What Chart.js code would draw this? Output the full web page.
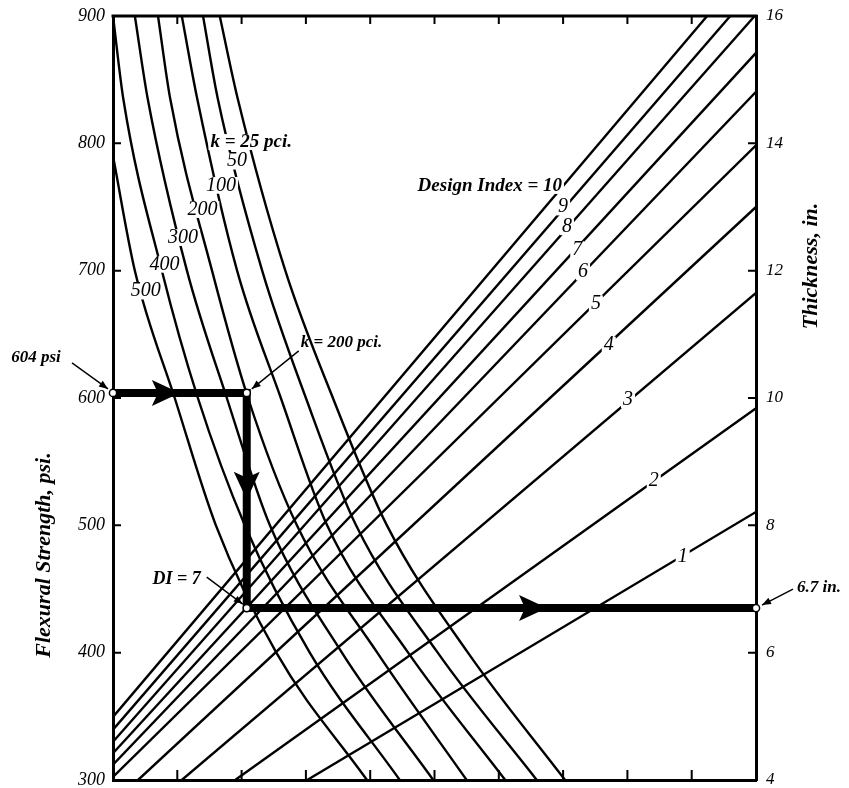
<!DOCTYPE html>
<html><head><meta charset="utf-8">
<script src="https://cdn.jsdelivr.net/npm/chart.js@4.4.1/dist/chart.umd.min.js"></script>
<style>html,body{margin:0;padding:0;background:#fff}canvas{display:block}</style>
</head><body>
<canvas id="c" width="849" height="788"></canvas>
<script>
// ---- tick labels ----
const psiTicks = [300, 400, 500, 600, 700, 800, 900];
const inTicks = [4, 6, 8, 10, 12, 14, 16];
const xTicks = [1, 2, 3, 4, 5, 6, 7, 8, 9];

// ---- modulus of subgrade reaction curves: [x, flexural strength psi] ----
const k500 = [[0, 790], [0.34, 700], [0.96, 600], [1.60, 500], [2.54, 400], [3.95, 300]];
const k400 = [[0, 900], [0.16, 835], [0.76, 700], [1.32, 600], [2.05, 500], [3.06, 400], [4.46, 300]];
const k300 = [[0.34, 900], [0.54, 835], [1.15, 700], [1.77, 600], [2.44, 500], [3.56, 400], [4.98, 300]];
const k200 = [[0.70, 900], [0.89, 835], [1.54, 700], [2.10, 600], [2.86, 500], [4.11, 400], [5.50, 300]];
const k100 = [[1.07, 900], [1.31, 835], [1.93, 700], [2.61, 600], [3.33, 500], [4.59, 400], [6.10, 300]];
const k50  = [[1.40, 900], [1.63, 835], [2.32, 700], [3.00, 600], [3.78, 500], [5.05, 400], [6.59, 300]];
const k25  = [[1.66, 900], [1.94, 835], [2.68, 700], [3.42, 600], [4.26, 500], [5.52, 400], [7.03, 300]];
const kNames = ['500', '400', '300', '200', '100', '50', '25'];

// ---- design index lines: [x, thickness in.] ----
const di10 = [[0, 4.99], [9.24, 16]];
const di9  = [[0, 4.79], [9.60, 16]];
const di8  = [[0, 4.60], [9.98, 16]];
const di7  = [[0, 4.42], [10, 15.42]];
const di6  = [[0, 4.24], [10, 14.81]];
const di5  = [[0, 4.05], [10, 13.97]];
const di4  = [[0.39, 4], [10, 13.00]];
const di3  = [[1.07, 4], [10, 11.65]];
const di2  = [[1.90, 4], [10, 9.84]];
const di1  = [[3.02, 4], [10, 8.21]];
const diNames = ['10', '9', '8', '7', '6', '5', '4', '3', '2', '1'];

// ---- worked example ----
const inputPsi = 604;
const exampleX = 2.08;
const outThickness = 6.7;

// ---- label anchors (data coords) ----
const kLabelPos = [[0.51, 684], [0.80, 705], [1.09, 726], [1.39, 748], [1.68, 767], [1.93, 786]];
const kTopLabelPos = [2.15, 801];
const diLabelPos = [[6.92, 13.33], [7.0, 13.0], [7.06, 12.69], [7.22, 12.33], [7.31, 11.98], [7.51, 11.48], [7.71, 10.83], [8.01, 9.97], [8.41, 8.70], [8.86, 7.50]];
const arrowTips = { right1: 1.04, down: 520, right2: 6.75 };

const pts = a => a.map(([x, y]) => ({ x, y }));
const kSets = [k500, k400, k300, k200, k100, k50, k25].map((a, i) => ({
  label: 'k=' + kNames[i], data: pts(a), yAxisID: 'y', borderColor: '#000', borderWidth: 2.4,
  pointRadius: 0, cubicInterpolationMode: 'monotone', fill: false
}));
const diSets = [di10, di9, di8, di7, di6, di5, di4, di3, di2, di1].map((a, i) => ({
  label: 'DI=' + diNames[i], data: pts(a), yAxisID: 'y2', borderColor: '#000', borderWidth: 2.4,
  pointRadius: 0, tension: 0, fill: false
}));

const SERIF = "'Liberation Serif', 'DejaVu Serif', serif";
function txt(ctx, s, px, py, font, align, bg) {
  ctx.save();
  ctx.font = font;
  const w = ctx.measureText(s).width;
  const h = parseFloat(font.match(/([\d.]+)px/)[1]);
  const left = align === 'center' ? px - w / 2 : align === 'right' ? px - w : px;
  if (bg) { ctx.fillStyle = '#fff'; ctx.fillRect(left - 2, py - h * 0.42, w + 4, h * 0.84); }
  ctx.fillStyle = '#000'; ctx.textAlign = align; ctx.textBaseline = 'middle';
  ctx.fillText(s, px, py);
  ctx.restore();
}
function pointer(ctx, x0, y0, x1, y1, head) {
  ctx.save();
  ctx.strokeStyle = '#000'; ctx.fillStyle = '#000'; ctx.lineWidth = 1.4;
  ctx.beginPath(); ctx.moveTo(x0, y0); ctx.lineTo(x1, y1); ctx.stroke();
  if (head) {
    const ang = Math.atan2(y1 - y0, x1 - x0), L = 9, W = 3.5;
    ctx.beginPath(); ctx.moveTo(x1, y1);
    ctx.lineTo(x1 - L * Math.cos(ang) + W * Math.sin(ang), y1 - L * Math.sin(ang) - W * Math.cos(ang));
    ctx.lineTo(x1 - L * Math.cos(ang) - W * Math.sin(ang), y1 - L * Math.sin(ang) + W * Math.cos(ang));
    ctx.closePath(); ctx.fill();
  }
  ctx.restore();
}

const overlay = {
  id: 'overlay',
  afterDatasetsDraw(chart) {
    const { ctx, chartArea: a, scales: { x, y, y2 } } = chart;
    ctx.save();
    // frame top
    ctx.strokeStyle = '#000'; ctx.lineWidth = 3;
    ctx.beginPath(); ctx.moveTo(a.left - 1.5, a.top); ctx.lineTo(a.right + 1.5, a.top); ctx.stroke();
    // inward ticks
    ctx.lineWidth = 2;
    ctx.beginPath();
    psiTicks.forEach(v => { const p = y.getPixelForValue(v); ctx.moveTo(a.left, p); ctx.lineTo(a.left + 8, p); });
    inTicks.forEach(v => { const p = y2.getPixelForValue(v); ctx.moveTo(a.right, p); ctx.lineTo(a.right - 8, p); });
    xTicks.forEach(v => { const p = x.getPixelForValue(v); ctx.moveTo(p, a.bottom); ctx.lineTo(p, a.bottom - 10); ctx.moveTo(p, a.top); ctx.lineTo(p, a.top + 8); });
    ctx.stroke();

    // curve labels (break the lines)
    const itF = 'italic 20px ' + SERIF;
    const biF = 'italic bold 19px ' + SERIF;
    kLabelPos.forEach(([lx, ly], i) => txt(ctx, kNames[i], x.getPixelForValue(lx), y.getPixelForValue(ly), itF, 'center', true));
    txt(ctx, 'k = 25 pci.', x.getPixelForValue(kTopLabelPos[0]), y.getPixelForValue(kTopLabelPos[1]), biF, 'center', true);
    diLabelPos.forEach(([lx, ly], i) => {
      if (i === 0) txt(ctx, 'Design Index = 10', x.getPixelForValue(lx) + 4, y2.getPixelForValue(ly), biF, 'right', true);
      else txt(ctx, diNames[i], x.getPixelForValue(lx), y2.getPixelForValue(ly), itF, 'center', true);
    });

    // example path
    const p1 = [x.getPixelForValue(0), y.getPixelForValue(inputPsi)];
    const p2 = [x.getPixelForValue(exampleX), y.getPixelForValue(inputPsi)];
    const p3 = [x.getPixelForValue(exampleX), y2.getPixelForValue(outThickness)];
    const p4 = [x.getPixelForValue(10), y2.getPixelForValue(outThickness)];
    ctx.lineWidth = 8; ctx.lineJoin = 'miter'; ctx.lineCap = 'butt'; ctx.strokeStyle = '#000';
    ctx.beginPath(); ctx.moveTo(p1[0], p1[1]); ctx.lineTo(p2[0], p2[1]); ctx.lineTo(p3[0], p3[1]); ctx.lineTo(p4[0], p4[1]); ctx.stroke();
    ctx.fillStyle = '#000';
    const tri = (tx, ty, dir) => {
      ctx.beginPath();
      if (dir === 'r') { ctx.moveTo(tx, ty); ctx.lineTo(tx - 28, ty - 13); ctx.lineTo(tx - 22, ty); ctx.lineTo(tx - 28, ty + 13); }
      else { ctx.moveTo(tx, ty); ctx.lineTo(tx - 13, ty - 28); ctx.lineTo(tx, ty - 22); ctx.lineTo(tx + 13, ty - 28); }
      ctx.closePath(); ctx.fill();
    };
    tri(x.getPixelForValue(arrowTips.right1), p1[1], 'r');
    tri(p2[0], y.getPixelForValue(arrowTips.down), 'd');
    tri(x.getPixelForValue(arrowTips.right2), p3[1], 'r');
    // markers
    [p1, p2, p3, p4].forEach(p => {
      ctx.beginPath(); ctx.arc(p[0], p[1], 3.6, 0, Math.PI * 2);
      ctx.fillStyle = '#fff'; ctx.fill(); ctx.lineWidth = 1.5; ctx.strokeStyle = '#000'; ctx.stroke();
    });
    // annotations
    const annF = 'italic bold 17px ' + SERIF;
    txt(ctx, '604 psi', p1[0] - 77, p1[1] - 35, annF, 'center', false);
    pointer(ctx, p1[0] - 41, p1[1] - 30, p1[0] - 5, p1[1] - 4, true);
    txt(ctx, 'k = 200 pci.', p2[0] + 54, p2[1] - 50, annF, 'left', false);
    pointer(ctx, p2[0] + 52, p2[1] - 42, p2[0] + 5, p2[1] - 4, true);
    txt(ctx, 'DI = 7', p3[0] - 70, p3[1] - 29, 'italic bold 18px ' + SERIF, 'center', false);
    pointer(ctx, p3[0] - 40, p3[1] - 31, p3[0] - 4, p3[1] - 4, true);
    txt(ctx, '6.7 in.', p4[0] + 41, p4[1] - 20, annF, 'left', false);
    pointer(ctx, p4[0] + 37, p4[1] - 19, p4[0] + 6, p4[1] - 3, true);

    // axis titles
    const tF = 'italic bold 22px ' + SERIF;
    ctx.save(); ctx.translate(a.left - 69, a.top + 539); ctx.rotate(-Math.PI / 2);
    txt(ctx, 'Flexural Strength, psi.', 0, 0, tF, 'center', false); ctx.restore();
    ctx.save(); ctx.translate(a.right + 55, a.top + 250); ctx.rotate(-Math.PI / 2);
    txt(ctx, 'Thickness, in.', 0, 0, tF, 'center', false); ctx.restore();
    ctx.restore();
  }
};

const tickFont = { family: SERIF, size: 18, style: 'italic' };
new Chart(document.getElementById('c'), {
  type: 'line',
  data: { datasets: [...kSets, ...diSets] },
  options: {
    responsive: false, animation: false, events: [],
    layout: { padding: { top: 16, bottom: 0, left: 0, right: 0 } },
    plugins: { legend: { display: false }, tooltip: { enabled: false } },
    scales: {
      x: {
        type: 'linear', min: 0, max: 10, position: 'bottom',
        ticks: { display: false }, grid: { display: false, drawTicks: false },
        border: { display: true, width: 3, color: '#000' },
        afterFit(s) { s.height = 8; s.paddingLeft = 0; s.paddingRight = 0; }
      },
      y: {
        type: 'linear', position: 'left', min: 300, max: 900,
        afterBuildTicks(s) { s.ticks = psiTicks.map(v => ({ value: v })); },
        ticks: { font: tickFont, color: '#000', padding: 8 },
        grid: { drawOnChartArea: false, drawTicks: false },
        border: { display: true, width: 3, color: '#000' },
        afterFit(s) { s.width = 113; s.paddingTop = 0; s.paddingBottom = 0; }
      },
      y2: {
        type: 'linear', position: 'right', min: 4, max: 16,
        afterBuildTicks(s) { s.ticks = inTicks.map(v => ({ value: v })); },
        ticks: { font: { family: SERIF, size: 17, style: 'italic' }, color: '#000', padding: 10 },
        grid: { drawOnChartArea: false, drawTicks: false },
        border: { display: true, width: 3, color: '#000' },
        afterFit(s) { s.width = 93; s.paddingTop = 0; s.paddingBottom = 0; }
      }
    }
  },
  plugins: [overlay]
});
</script>
</body></html>
